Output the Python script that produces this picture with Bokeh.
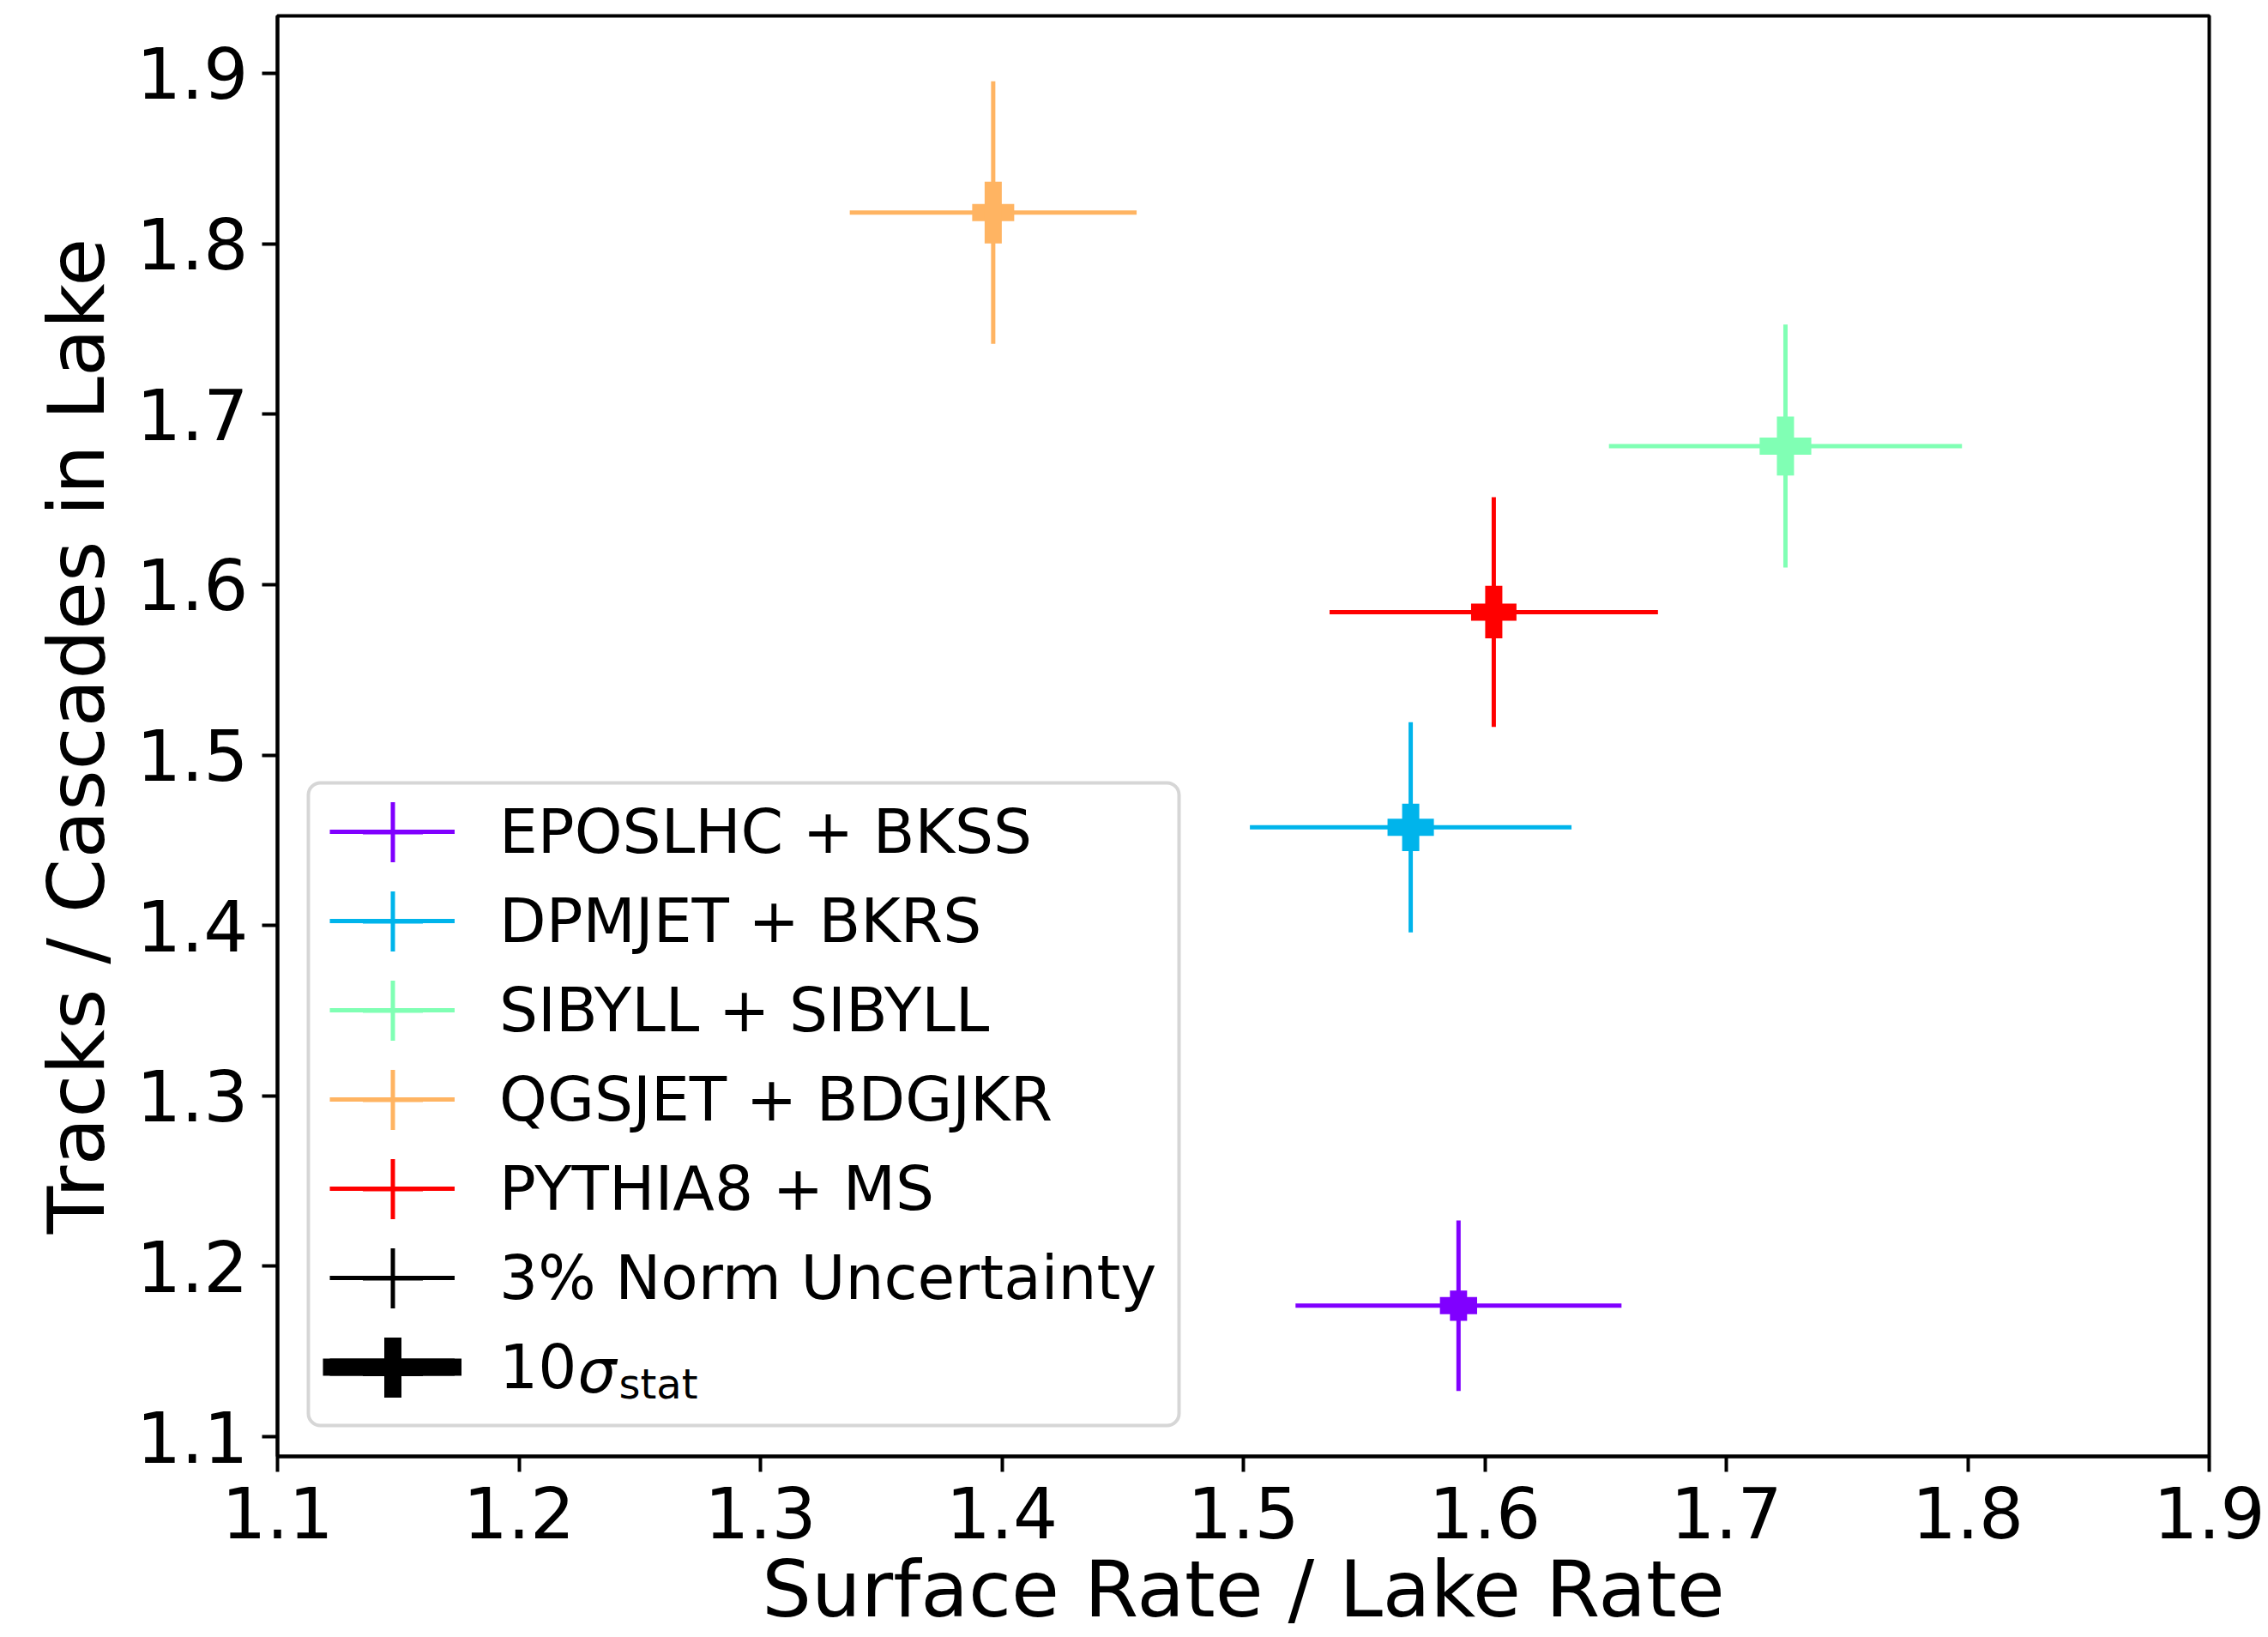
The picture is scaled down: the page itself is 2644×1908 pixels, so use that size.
import numpy as np
from bokeh.plotting import figure
from bokeh.models import (ColumnDataSource, Range1d, FixedTicker, Legend, LegendItem,
                          BoxAnnotation, Label)
from bokeh.embed import file_html
from bokeh.resources import INLINE

# Model combinations and their predicted ratios
models = ["EPOSLHC + BKSS", "DPMJET + BKRS", "SIBYLL + SIBYLL", "QGSJET + BDGJKR", "PYTHIA8 + MS"]
colors = ["#8000ff", "#00b4eb", "#80ffb4", "#ffb462", "#ff0000"]
surface_over_lake = [1.5891, 1.5693, 1.7245, 1.3964, 1.6037]
tracks_over_cascades = [1.1769, 1.4576, 1.6813, 1.8183, 1.5839]
# 3% normalisation uncertainty
norm_err_x = [0.0675, 0.0666, 0.0731, 0.0594, 0.0680]
norm_err_y = [0.0500, 0.0617, 0.0713, 0.0770, 0.0674]
# statistical uncertainty, scaled by 10
stat_err_x = [0.0077, 0.0096, 0.0107, 0.0087, 0.0094]
stat_err_y = [0.0089, 0.0139, 0.0173, 0.0181, 0.0154]

x_ticks = [1.1, 1.2, 1.3, 1.4, 1.5, 1.6, 1.7, 1.8, 1.9]
y_ticks = [1.1, 1.2, 1.3, 1.4, 1.5, 1.6, 1.7, 1.8, 1.9]

FONT = "DejaVu Sans"
W, H = 2644, 1908
LEFT, RIGHT, TOP, BOTTOM = 323, 69, 18, 211   # borders around the plot frame

x = np.array(surface_over_lake)
y = np.array(tracks_over_cascades)
ex, ey = np.array(norm_err_x), np.array(norm_err_y)
sx, sy = np.array(stat_err_x), np.array(stat_err_y)

src = ColumnDataSource(dict(
    x=x, y=y, color=colors,
    xl=x - ex, xr=x + ex, yl=y - ey, yu=y + ey,
    sxl=x - sx, sxr=x + sx, syl=y - sy, syu=y + sy,
))

# y limits: data extent plus 5% padding
lo, hi = float((y - ey).min()), float((y + ey).max())
pad = 0.05 * (hi - lo)

p = figure(width=W, height=H, output_backend="svg", toolbar_location=None,
           x_range=Range1d(x_ticks[0], x_ticks[-1]), y_range=Range1d(lo - pad, hi + pad),
           min_border_left=LEFT, min_border_right=RIGHT,
           min_border_top=TOP, min_border_bottom=BOTTOM)
p.grid.visible = False
p.background_fill_color = "white"
p.border_fill_color = "white"
p.outline_line_color = "black"
p.outline_line_width = 4

p.xaxis.ticker = FixedTicker(ticks=x_ticks)
p.yaxis.ticker = FixedTicker(ticks=y_ticks)
p.xaxis.axis_label = "Surface Rate / Lake Rate"
p.yaxis.axis_label = "Tracks / Cascades in Lake"
for ax in (p.xaxis[0], p.yaxis[0]):
    ax.axis_line_color = "black"
    ax.axis_line_width = 4
    ax.major_tick_line_width = 4
    ax.major_tick_out = 18
    ax.major_tick_in = 0
    ax.minor_tick_line_color = None
    ax.major_label_text_font = FONT
    ax.major_label_text_font_size = "82px"
    ax.major_label_text_color = "black"
    ax.axis_label_text_font = FONT
    ax.axis_label_text_font_size = "91px"
    ax.axis_label_text_font_style = "normal"
    ax.axis_label_text_color = "black"
p.xaxis.major_label_standoff = 17
p.xaxis.axis_label_standoff = 4
p.yaxis.major_label_standoff = 16
p.yaxis.axis_label_standoff = 14

# thin crosses: normalisation uncertainty
r_hx = p.segment(x0="xl", y0="y", x1="xr", y1="y", source=src, line_color="color",
                 line_width=5, line_cap="butt")
r_vy = p.segment(x0="x", y0="yl", x1="x", y1="yu", source=src, line_color="color",
                 line_width=5, line_cap="butt")
# thick crosses: 10 x statistical uncertainty
r_hs = p.segment(x0="sxl", y0="y", x1="sxr", y1="y", source=src, line_color="color",
                 line_width=20, line_cap="butt")
r_vs = p.segment(x0="x", y0="syl", x1="x", y1="syu", source=src, line_color="color",
                 line_width=20, line_cap="butt")

# legend keys (zero-size in the plot area, drawn only as legend glyphs)
k_cross = p.scatter(x="x", y="y", source=src, marker="cross", size=0,
                    line_color="color", line_width=5)
k_line_thin = p.segment(x0="x", y0="y", x1="x", y1="y", source=src, line_color="black",
                        line_width=5, line_cap="butt")
k_cross_thin = p.scatter(x="x", y="y", source=src, marker="cross", size=0,
                         line_color="black", line_width=5)
k_line_thick = p.segment(x0="x", y0="y", x1="x", y1="y", source=src, line_color="black",
                         line_width=20, line_cap="butt")
k_cross_thick = p.scatter(x="x", y="y", source=src, marker="cross", size=0,
                          line_color="black", line_width=20)

labels = models + ["3% Norm Uncertainty", "10"]
line_keys = [(r_hx, i) for i in range(len(models))] + [(k_line_thin, 0), (k_line_thick, 0)]
cross_keys = [(k_cross, i) for i in range(len(models))] + [(k_cross_thin, 0), (k_cross_thick, 0)]

# legend frame
frame_box = BoxAnnotation(left=359, right=1374, top=912, bottom=1661,
                          left_units="canvas", right_units="canvas",
                          top_units="canvas", bottom_units="canvas",
                          fill_color="white", fill_alpha=0.8,
                          line_color="#d6d6d6", line_alpha=1.0, line_width=4,
                          line_dash="solid")
if "border_radius" in BoxAnnotation.properties():
    frame_box.border_radius = 14
p.add_layout(frame_box)

ROW = 104          # legend row pitch (px)
N = len(labels)
LEG_BOTTOM = 52    # legend bottom edge above the frame bottom
LEG_LEFT = 61      # legend key start right of the frame left
KEY_W = 146
frame_h = H - TOP - BOTTOM

# main legend: labels with horizontal key lines
legend = Legend(items=[LegendItem(label=lab, renderers=[r], index=i)
                       for lab, (r, i) in zip(labels, line_keys)],
                location=(LEG_LEFT, LEG_BOTTOM), orientation="vertical",
                glyph_width=KEY_W, glyph_height=ROW, spacing=0, padding=0,
                label_standoff=52, label_text_font=FONT, label_text_font_size="71px",
                label_text_color="black",
                border_line_alpha=0, background_fill_alpha=0)
p.add_layout(legend, "center")


def key_legend(renderer, index, left, bottom, w, h):
    """A label-less single-item legend used to draw one enlarged key glyph."""
    return Legend(items=[LegendItem(label=" ", renderers=[renderer], index=index)],
                  location=(left, bottom), glyph_width=w, glyph_height=h,
                  spacing=0, padding=0, label_standoff=0, label_text_font_size="1px",
                  label_width=0, label_height=0,
                  border_line_alpha=0, background_fill_alpha=0)


# the thick key line is a little longer than the thin ones
p.add_layout(key_legend(k_line_thick, 0, LEG_LEFT - 8, LEG_BOTTOM, KEY_W + 16, ROW), "center")

# larger crosses on top of each key line
CROSS = 175
row_centers = [LEG_BOTTOM + (N - 1 - k) * ROW + ROW / 2 for k in range(N)]
for k, (r, i) in enumerate(cross_keys):
    p.add_layout(key_legend(r, i, LEG_LEFT + KEY_W / 2 - CROSS / 2,
                            row_centers[k] - CROSS / 2, CROSS, CROSS), "center")

# sigma and subscript of the last legend entry
text_base = TOP + frame_h - row_centers[-1] + 24
p.add_layout(Label(x=673, y=text_base - 19, x_units="canvas", y_units="canvas", text="σ",
                   text_font=FONT, text_font_size="71px", text_font_style="italic",
                   text_baseline="alphabetic", text_color="black"))
p.add_layout(Label(x=721, y=text_base - 5, x_units="canvas", y_units="canvas", text="stat",
                   text_font=FONT, text_font_size="48px",
                   text_baseline="alphabetic", text_color="black"))

open("out.html", "w").write(file_html(p, INLINE))
